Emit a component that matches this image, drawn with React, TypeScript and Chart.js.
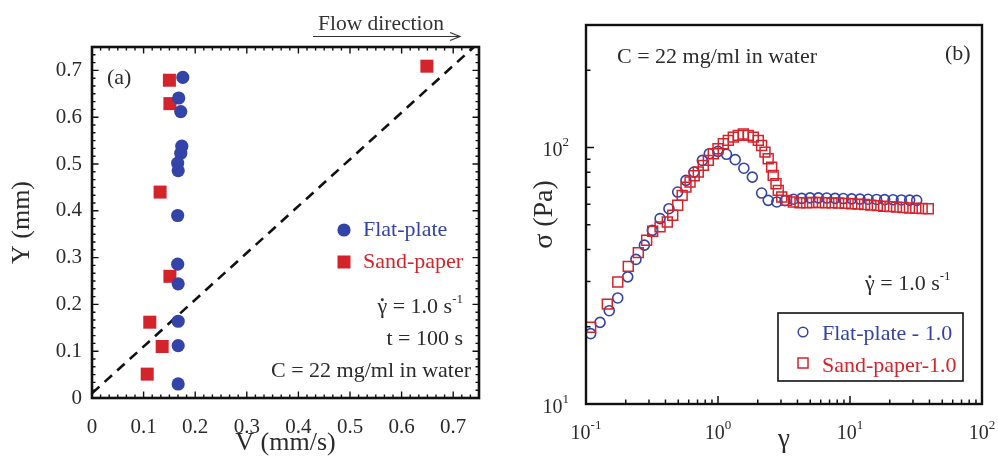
import React, { useEffect, useRef } from "react";
import { Chart, registerables } from "chart.js";
Chart.register(...registerables);

const SERIF = '"Liberation Serif", "Times New Roman", Times, serif';
const BLUE = "#3343a8";
const RED = "#d3232b";
const INK = "#2b2b2b";

// ---------- Panel (a): velocity profile ----------
const flatPlateV = [0.176, 0.168, 0.172, 0.174, 0.172, 0.166, 0.167, 0.166, 0.166, 0.167, 0.167, 0.167, 0.167];
const flatPlateY = [0.685, 0.641, 0.612, 0.538, 0.523, 0.502, 0.486, 0.39, 0.286, 0.244, 0.164, 0.112, 0.03];
const sandPaperV = [0.649, 0.15, 0.151, 0.132, 0.151, 0.112, 0.136, 0.107];
const sandPaperY = [0.709, 0.679, 0.629, 0.44, 0.26, 0.162, 0.11, 0.051];
const guideV = [0, 0.74];
const guideY = [0.01, 0.75];
const aTickValues = [0, 0.1, 0.2, 0.3, 0.4, 0.5, 0.6, 0.7];

// ---------- Panel (b): stress vs strain ----------
const flatStrain = [0.1085, 0.1277, 0.15, 0.174, 0.207, 0.239, 0.277, 0.318, 0.364, 0.425, 0.495, 0.572, 0.658, 0.761, 0.859, 1.0, 1.16, 1.35, 1.57, 1.82, 2.14, 2.4, 2.79, 3.22, 3.73, 4.31, 4.98, 5.76, 6.66, 7.7, 8.9, 10.3, 11.9, 13.7, 15.9, 18.3, 21.2, 24.5, 28.3, 32.0];
const flatStress = [18.8, 20.8, 23.1, 25.9, 31.3, 36.6, 41.6, 47.5, 52.8, 57.7, 67.0, 74.4, 80.2, 89.0, 94.5, 96.5, 94.0, 89.6, 83.0, 76.6, 66.4, 62.2, 61.3, 62.0, 62.8, 63.3, 63.6, 63.6, 63.5, 63.3, 63.2, 63.0, 62.9, 62.8, 62.7, 62.6, 62.5, 62.4, 62.3, 62.2];
const sandStrain = [0.1085, 0.145, 0.174, 0.209, 0.249, 0.288, 0.32, 0.364, 0.413, 0.454, 0.495, 0.535, 0.572, 0.614, 0.66, 0.709, 0.774, 0.845, 0.921, 1.0, 1.097, 1.197, 1.306, 1.425, 1.555, 1.697, 1.85, 2.02, 2.14, 2.27, 2.4, 2.55, 2.62, 2.75, 2.86, 3.04, 3.31, 3.72, 4.18, 4.69, 5.2, 5.8, 6.5, 7.3, 8.2, 9.2, 10.3, 11.5, 12.9, 14.4, 16.1, 18.0, 20.1, 22.5, 25.2, 28.2, 31.5, 35.2, 39.2];
const sandStress = [19.9, 24.5, 29.9, 34.4, 38.9, 43.5, 47.1, 49.0, 51.2, 54.4, 59.5, 65.0, 70.0, 73.3, 77.5, 80.2, 85.1, 89.0, 94.5, 98.8, 103.4, 106.5, 109.7, 111.4, 112.8, 111.4, 109.7, 106.5, 101.8, 95.9, 90.3, 83.8, 77.8, 72.2, 68.0, 64.1, 62.2, 61.3, 60.9, 60.9, 61.0, 61.0, 60.9, 60.8, 60.7, 60.5, 60.3, 60.1, 59.9, 59.6, 59.3, 59.0, 58.8, 58.5, 58.3, 58.1, 57.9, 57.8, 57.7];
const bXExponents = [-1, 0, 1, 2];
const bYExponents = [1, 2];

type Part = { text: string; size: number; color?: string; dy?: number; dot?: boolean };

function font(size: number) {
  return `${size}px ${SERIF}`;
}

function drawParts(ctx: CanvasRenderingContext2D, parts: Part[], x: number, baseline: number, align: "left" | "right" | "center") {
  let total = 0;
  for (const p of parts) {
    ctx.font = font(p.size);
    total += ctx.measureText(p.text).width;
  }
  let cx = align === "right" ? x - total : align === "center" ? x - total / 2 : x;
  ctx.textAlign = "left";
  ctx.textBaseline = "alphabetic";
  for (const p of parts) {
    ctx.font = font(p.size);
    ctx.fillStyle = p.color || INK;
    ctx.fillText(p.text, cx, baseline + (p.dy || 0));
    const w = ctx.measureText(p.text).width;
    if (p.dot) {
      ctx.beginPath();
      ctx.arc(cx + w * 0.5, baseline - p.size * 0.6, p.size * 0.065, 0, Math.PI * 2);
      ctx.fill();
    }
    cx += w;
  }
}

const panelAPlugin = {
  id: "panelADecor",
  afterDraw(chart: any) {
    const { ctx, chartArea: ca, scales } = chart;
    const xs = scales.x;
    const ys = scales.y;
    ctx.save();
    // inward ticks on all four sides
    ctx.strokeStyle = "#111";
    ctx.lineWidth = 1.4;
    ctx.beginPath();
    for (let k = 1; k < 45; k++) {
      const v = k / 60;
      const major = k % 6 === 0;
      const len = major ? 6.5 : 3.5;
      const px = xs.getPixelForValue(v);
      ctx.moveTo(px, ca.bottom);
      ctx.lineTo(px, ca.bottom - len);
      ctx.moveTo(px, ca.top);
      ctx.lineTo(px, ca.top + len);
      const py = ys.getPixelForValue(v);
      ctx.moveTo(ca.left, py);
      ctx.lineTo(ca.left + len, py);
      ctx.moveTo(ca.right, py);
      ctx.lineTo(ca.right - len, py);
    }
    ctx.stroke();
    ctx.lineWidth = 2.6;
    ctx.strokeRect(ca.left, ca.top, ca.right - ca.left, ca.bottom - ca.top);

    // panel label
    drawParts(ctx, [{ text: "(a)", size: 22 }], 107, 84, "left");

    // legend
    ctx.fillStyle = BLUE;
    ctx.beginPath();
    ctx.arc(344, 230, 6.6, 0, Math.PI * 2);
    ctx.fill();
    drawParts(ctx, [{ text: "Flat-plate", size: 22, color: BLUE }], 363, 236, "left");
    ctx.fillStyle = RED;
    ctx.fillRect(337.5, 255.5, 13, 13);
    drawParts(ctx, [{ text: "Sand-paper", size: 22, color: RED }], 363, 268, "left");

    // conditions
    drawParts(
      ctx,
      [
        { text: "γ", size: 22, dot: true },
        { text: " = 1.0 s", size: 22 },
        { text: "-1", size: 13, dy: -10 },
      ],
      463,
      313,
      "right"
    );
    drawParts(ctx, [{ text: "t = 100 s", size: 22 }], 463, 345, "right");
    drawParts(ctx, [{ text: "C = 22 mg/ml in water", size: 22 }], 471, 377, "right");

    // flow direction arrow
    drawParts(ctx, [{ text: "Flow direction", size: 21.5, color: "#333" }], 318, 30, "left");
    ctx.strokeStyle = "#333";
    ctx.lineWidth = 1.2;
    ctx.beginPath();
    ctx.moveTo(313, 36.5);
    ctx.lineTo(460, 36.5);
    ctx.moveTo(450, 32.5);
    ctx.lineTo(460, 36.5);
    ctx.lineTo(450, 40.5);
    ctx.stroke();
    ctx.restore();
  },
};

function makePanelA(): any {
  const axisTitle = (text: string, pad: any) => ({
    display: true,
    text,
    color: INK,
    font: { family: SERIF, size: 26 },
    padding: pad,
  });
  const tickOpts = (pad: number) => ({
    padding: pad,
    color: INK,
    font: { family: SERIF, size: 21 },
    callback: (v: number) => (v === 0 ? "0" : Number(v).toFixed(1)),
  });
  return {
    type: "scatter",
    data: {
      datasets: [
        {
          label: "Flat-plate",
          data: flatPlateV.map((v, i) => ({ x: v, y: flatPlateY[i] })),
          pointStyle: "circle",
          pointRadius: 6.6,
          backgroundColor: BLUE,
          borderWidth: 0,
        },
        {
          label: "Sand-paper",
          data: sandPaperV.map((v, i) => ({ x: v, y: sandPaperY[i] })),
          pointStyle: "rect",
          pointRadius: 9.2,
          backgroundColor: RED,
          borderWidth: 0,
        },
        {
          label: "guide",
          data: guideV.map((v, i) => ({ x: v, y: guideY[i] })),
          showLine: true,
          pointRadius: 0,
          borderColor: "#111",
          borderWidth: 2.6,
          borderDash: [10, 7],
        },
      ],
    },
    options: {
      responsive: false,
      animation: false,
      events: [],
      layout: { padding: { top: 47, right: 21, left: 0, bottom: 0 } },
      plugins: { legend: { display: false }, tooltip: { enabled: false } },
      scales: {
        x: {
          type: "linear",
          min: 0,
          max: 0.75,
          grid: { display: false, drawTicks: false },
          border: { display: false },
          ticks: tickOpts(17),
          afterBuildTicks: (s: any) => {
            s.ticks = aTickValues.map((v) => ({ value: v }));
          },
          afterFit: (s: any) => {
            s.height = 61;
          },
          title: axisTitle("V (mm/s)", { top: 0, bottom: 0 }),
        },
        y: {
          type: "linear",
          min: 0,
          max: 0.75,
          grid: { display: false, drawTicks: false },
          border: { display: false },
          ticks: tickOpts(10),
          afterBuildTicks: (s: any) => {
            s.ticks = aTickValues.map((v) => ({ value: v }));
          },
          afterFit: (s: any) => {
            s.width = 92;
          },
          title: axisTitle("Y (mm)", { top: 7, bottom: 0 }),
        },
      },
    },
    plugins: [panelAPlugin],
  };
}

const panelBPlugin = {
  id: "panelBDecor",
  afterDraw(chart: any) {
    const { ctx, chartArea: ca, scales } = chart;
    const xs = scales.x;
    const ys = scales.y;
    ctx.save();
    ctx.strokeStyle = "#111";
    ctx.lineWidth = 1.5;
    ctx.beginPath();
    // bottom ticks
    for (let d = -1; d < 2; d++) {
      for (let m = 1; m <= 9; m++) {
        if (d === -1 && m === 1) continue;
        const v = m * Math.pow(10, d);
        const px = xs.getPixelForValue(v);
        const len = m === 1 ? 8 : 4.5;
        ctx.moveTo(px, ca.bottom);
        ctx.lineTo(px, ca.bottom - len);
      }
    }
    // left ticks
    for (let d = 1; d < 3; d++) {
      for (let m = 1; m <= 9; m++) {
        const v = m * Math.pow(10, d);
        if (v >= 300 || v === 10) continue;
        const py = ys.getPixelForValue(v);
        const len = m === 1 ? 8 : 4.5;
        ctx.moveTo(ca.left, py);
        ctx.lineTo(ca.left + len, py);
      }
    }
    ctx.stroke();
    ctx.lineWidth = 2.4;
    ctx.strokeRect(ca.left, ca.top, ca.right - ca.left, ca.bottom - ca.top);

    // tick labels
    for (const e of bXExponents) {
      const px = xs.getPixelForValue(Math.pow(10, e));
      drawParts(
        ctx,
        [
          { text: "10", size: 20 },
          { text: String(e), size: 13, dy: -10 },
        ],
        px,
        439,
        "center"
      );
    }
    for (const e of bYExponents) {
      const py = ys.getPixelForValue(Math.pow(10, e));
      drawParts(
        ctx,
        [
          { text: "10", size: 20 },
          { text: String(e), size: 13, dy: -10 },
        ],
        69,
        py + 9,
        "right"
      );
    }

    // annotations
    drawParts(ctx, [{ text: "C = 22 mg/ml in water", size: 22 }], 117, 63, "left");
    drawParts(ctx, [{ text: "(b)", size: 22 }], 445, 60, "left");
    drawParts(
      ctx,
      [
        { text: "γ", size: 22, dot: true },
        { text: " = 1.0 s", size: 22 },
        { text: "-1", size: 13, dy: -10 },
      ],
      365,
      290,
      "left"
    );

    // legend box
    ctx.lineWidth = 1.6;
    ctx.strokeStyle = "#111";
    ctx.strokeRect(278, 313, 185, 68);
    ctx.lineWidth = 1.5;
    ctx.strokeStyle = BLUE;
    ctx.beginPath();
    ctx.arc(303, 332, 4.8, 0, Math.PI * 2);
    ctx.stroke();
    drawParts(ctx, [{ text: "Flat-plate - 1.0", size: 22, color: BLUE }], 322, 340, "left");
    ctx.strokeStyle = RED;
    ctx.strokeRect(298, 358, 10, 10);
    drawParts(ctx, [{ text: "Sand-paper-1.0", size: 22, color: RED }], 322, 372, "left");
    ctx.restore();
  },
};

function makePanelB(): any {
  return {
    type: "scatter",
    data: {
      datasets: [
        {
          label: "Sand-paper-1.0",
          data: sandStrain.map((v, i) => ({ x: v, y: sandStress[i] })),
          pointStyle: "rect",
          pointRadius: 7,
          backgroundColor: "rgba(0,0,0,0)",
          borderColor: RED,
          borderWidth: 1.5,
        },
        {
          label: "Flat-plate - 1.0",
          data: flatStrain.map((v, i) => ({ x: v, y: flatStress[i] })),
          pointStyle: "circle",
          pointRadius: 5,
          backgroundColor: "rgba(0,0,0,0)",
          borderColor: BLUE,
          borderWidth: 1.6,
        },
      ],
    },
    options: {
      responsive: false,
      animation: false,
      events: [],
      layout: { padding: { top: 25, right: 16, left: 0, bottom: 0 } },
      plugins: { legend: { display: false }, tooltip: { enabled: false } },
      scales: {
        x: {
          type: "logarithmic",
          min: 0.1,
          max: 100,
          grid: { display: false, drawTicks: false },
          border: { display: false },
          ticks: { display: false },
          afterFit: (s: any) => {
            s.height = 55;
          },
          title: {
            display: true,
            text: "γ",
            color: INK,
            font: { family: SERIF, size: 27 },
            padding: { top: 0, bottom: 3 },
          },
        },
        y: {
          type: "logarithmic",
          min: 10,
          max: 300,
          grid: { display: false, drawTicks: false },
          border: { display: false },
          ticks: { display: false },
          afterFit: (s: any) => {
            s.width = 86;
          },
          title: {
            display: true,
            text: "σ (Pa)",
            color: INK,
            font: { family: SERIF, size: 28 },
            padding: { top: 28, bottom: 0 },
          },
        },
      },
    },
    plugins: [panelBPlugin],
  };
}

function ChartCanvas({ make, left, width }: { make: () => any; left: number; width: number }) {
  const ref = useRef<HTMLCanvasElement>(null);
  useEffect(() => {
    const chart = new Chart(ref.current as HTMLCanvasElement, make());
    return () => chart.destroy();
  }, [make]);
  return (
    <canvas
      ref={ref}
      width={width}
      height={459}
      style={{ position: "absolute", left, top: 0, width, height: 459, display: "block" }}
    />
  );
}

export default function App() {
  return (
    <div
      style={{
        position: "absolute",
        left: 0,
        top: 0,
        width: 998,
        height: 459,
        background: "#fff",
        overflow: "hidden",
      }}
    >
      <ChartCanvas make={makePanelA} left={0} width={500} />
      <ChartCanvas make={makePanelB} left={500} width={498} />
    </div>
  );
}
